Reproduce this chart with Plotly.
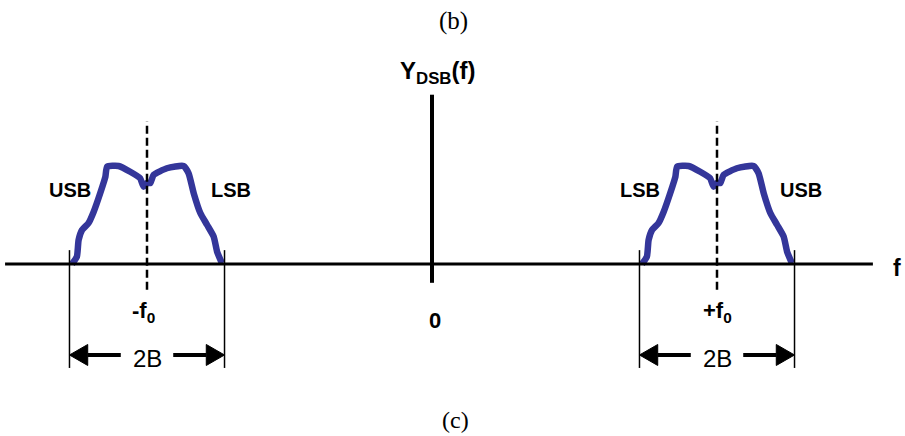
import plotly.graph_objects as go

# Spectrum of a DSB signal: two sidebands pairs centred on -f0 and +f0.
f0 = 1.0          # carrier frequency (normalised)
B = 0.272         # message bandwidth, in units of f0

# Shape of one sideband pair: frequency offset from the carrier (units of f0)
# and relative magnitude.
band_offset = [-0.263, -0.246, -0.240, -0.228, -0.205, -0.187, -0.164, -0.146,
               -0.140, -0.100, -0.059, -0.024, -0.012, 0.000, 0.012, 0.023,
               0.070, 0.128, 0.146, 0.164, 0.187, 0.211, 0.234, 0.246, 0.263]
band_level = [0.000, 0.074, 0.242, 0.343, 0.414, 0.528, 0.717, 0.882,
              0.983, 0.990, 0.932, 0.866, 0.781, 0.818, 0.818, 0.899,
              0.967, 0.990, 0.916, 0.714, 0.515, 0.394, 0.276, 0.124, 0.007]

carriers = [-f0, f0]
freq_marks = [-f0, 0.0, f0]
mark_labels = ["-f<sub>0</sub>", "0", "+f<sub>0</sub>"]
sideband_names = {-f0: ("USB", "LSB"), f0: ("LSB", "USB")}

BLUE = "#34369a"
SANS = "Liberation Sans"
SERIF = "Liberation Serif"

fig = go.Figure()

for fc in carriers:
    fig.add_trace(go.Scatter(
        x=[fc + d for d in band_offset], y=band_level, mode="lines",
        line=dict(color=BLUE, width=6.5, shape="spline", smoothing=0.5),
        hoverinfo="skip", showlegend=False))

shapes = []
# frequency axis and magnitude axis
shapes.append(dict(type="line", xref="x", yref="y", x0=-1.498, x1=1.547, y0=0, y1=0,
                   line=dict(color="black", width=3)))
shapes.append(dict(type="line", xref="x", yref="y", x0=0, x1=0, y0=-0.19, y1=1.71,
                   line=dict(color="black", width=4)))

arrow_y = -0.919
head_len = 0.064
head_half = 0.106
gap = 0.092
for fc in carriers:
    # carrier marker
    shapes.append(dict(type="line", xref="x", yref="y", x0=fc, x1=fc, y0=-0.26, y1=1.44,
                       line=dict(color="black", width=2.5, dash="8px,4px")))
    # band-edge markers
    for edge in (fc - B, fc + B):
        shapes.append(dict(type="line", xref="x", yref="y", x0=edge, x1=edge,
                           y0=0.14, y1=-1.05, line=dict(color="black", width=1.5)))
    # 2B dimension arrows
    for tip, sgn in ((fc - B, 1), (fc + B, -1)):
        base = tip + sgn * head_len
        shapes.append(dict(type="line", xref="x", yref="y", x0=base, x1=fc - sgn * gap,
                           y0=arrow_y, y1=arrow_y, line=dict(color="black", width=4)))
        shapes.append(dict(type="path", xref="x", yref="y",
                           path=f"M {tip},{arrow_y} L {base},{arrow_y + head_half} "
                                f"L {base},{arrow_y - head_half} Z",
                           fillcolor="black", line=dict(color="black", width=1)))

ann = []
for fm, lab in zip(freq_marks, mark_labels):
    if fm == 0:
        xpos, ypos = fm + 0.01, -0.57
    else:
        xpos, ypos = fm + (-0.012 if fm < 0 else 0.0), -0.48
    ann.append(dict(x=xpos, y=ypos, text=f"<b>{lab}</b>", showarrow=False,
                    xanchor="center", yanchor="middle",
                    font=dict(family=SANS, size=22, color="black")))
for fc in carriers:
    left_name, right_name = sideband_names[fc]
    ann.append(dict(x=fc - 0.27, y=0.75, text=f"<b>{left_name}</b>", showarrow=False,
                    xanchor="center", yanchor="middle",
                    font=dict(family=SANS, size=20, color="black")))
    ann.append(dict(x=fc + 0.295, y=0.75, text=f"<b>{right_name}</b>", showarrow=False,
                    xanchor="center", yanchor="middle",
                    font=dict(family=SANS, size=20, color="black")))
    ann.append(dict(x=fc, y=-0.95, text="2B", showarrow=False,
                    xanchor="center", yanchor="middle",
                    font=dict(family=SANS, size=24, color="black")))

ann.append(dict(x=0.02, y=1.93, text="<b>Y<sub>DSB</sub>(f)</b>", showarrow=False,
                xanchor="center", yanchor="middle",
                font=dict(family=SANS, size=24, color="black")))
ann.append(dict(x=1.63, y=-0.045, text="<b>f</b>", showarrow=False,
                xanchor="center", yanchor="middle",
                font=dict(family=SANS, size=23, color="black")))
ann.append(dict(xref="paper", yref="paper", x=453 / 905, y=1 - 21 / 436, text="(b)",
                showarrow=False, xanchor="center", yanchor="middle",
                font=dict(family=SERIF, size=25, color="black")))
ann.append(dict(xref="paper", yref="paper", x=455 / 905, y=1 - 420 / 436, text="(c)",
                showarrow=False, xanchor="center", yanchor="middle",
                font=dict(family=SERIF, size=24, color="black")))

fig.update_layout(
    width=905, height=436, margin=dict(l=0, r=0, t=0, b=0),
    paper_bgcolor="white", plot_bgcolor="white",
    xaxis=dict(range=[-432 / 285, 473 / 285], visible=False, fixedrange=True),
    yaxis=dict(range=[-172 / 99, 264 / 99], visible=False, fixedrange=True),
    shapes=shapes, annotations=ann, showlegend=False,
)

fig.write_html("out.html")
